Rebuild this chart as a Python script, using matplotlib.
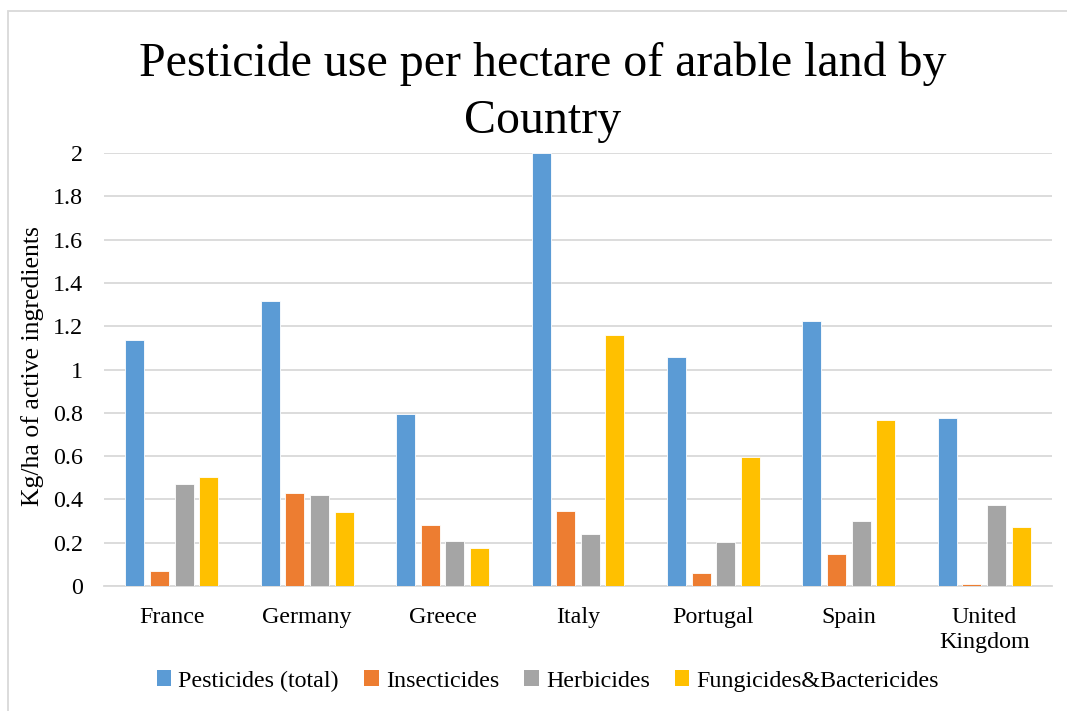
import numpy as np
import matplotlib
matplotlib.use('Agg')
import matplotlib.pyplot as plt
from matplotlib.patches import Rectangle, Patch

countries = ['France', 'Germany', 'Greece', 'Italy', 'Portugal', 'Spain', 'United\nKingdom']
pesticides_total = [1.138, 1.316, 0.793, 1.998, 1.059, 1.222, 0.777]
insecticides = [0.069, 0.430, 0.282, 0.346, 0.062, 0.150, 0.010]
herbicides = [0.473, 0.420, 0.210, 0.239, 0.205, 0.302, 0.372]
fungicides = [0.503, 0.340, 0.176, 1.158, 0.595, 0.767, 0.272]

series_names = ['Pesticides (total)', 'Insecticides', 'Herbicides', 'Fungicides&Bactericides']
series_vals = [pesticides_total, insecticides, herbicides, fungicides]
colors = ['#5B9BD5', '#ED7D31', '#A5A5A5', '#FFC000']

plt.rcParams['font.family'] = ['Liberation Serif', 'DejaVu Serif']

W, H = 1067, 711
fig = plt.figure(figsize=(W / 100, H / 100), dpi=100)
# plot area in pixels
left, right, bottom, top = 104, 1052, 586, 153
ax = fig.add_axes([left / W, 1 - bottom / H, (right - left) / W, (bottom - top) / H])

x = np.arange(len(countries))
step = 0.182
width = 0.14
for i, (name, vals) in enumerate(zip(series_names, series_vals)):
    ax.bar(x + (i - 1.5) * step, vals, width, color=colors[i],
           edgecolor='white', linewidth=0.6, label=name, zorder=3)

ax.set_xlim(-0.5, len(countries) - 0.5)
ax.set_ylim(0, 2)
ax.set_yticks(np.arange(0, 2.01, 0.2))
ax.set_yticklabels(['0', '0.2', '0.4', '0.6', '0.8', '1', '1.2', '1.4', '1.6', '1.8', '2'])
ax.set_xticks(x)
ax.set_xticklabels(countries, linespacing=1.25)
ax.tick_params(axis='both', length=0, labelsize=17.3)
ax.tick_params(axis='y', pad=15)
ax.tick_params(axis='x', pad=15)
ax.grid(axis='y', color='#D9D9D9', linewidth=1.3, zorder=0)
for s in ['top', 'right', 'left']:
    ax.spines[s].set_visible(False)
ax.spines['bottom'].set_color('#D9D9D9')
ax.spines['bottom'].set_linewidth(1.3)

fig.text(33 / W, 1 - 366 / H, 'Kg/ha of active ingredients', rotation=90,
         ha='center', va='center', fontsize=18.5)

fig.text(543 / W, 1 - 92 / H, 'Pesticide use per hectare of arable land by\nCountry',
         ha='center', va='center', fontsize=34.5, linespacing=1.38)

handles = [Patch(facecolor=c) for c in colors]
fig.legend(handles, series_names, loc='center', bbox_to_anchor=(548 / W, 1 - 681 / H),
           ncol=4, frameon=False, fontsize=17.3, handlelength=0.6, handleheight=0.6,
           handletextpad=0.3, columnspacing=1.05)

# outer chart border
fig.add_artist(Rectangle((8 / W, -0.05), 1.1, 1 - 11 / H + 0.05, transform=fig.transFigure,
                         fill=False, edgecolor='#D9D9D9', linewidth=1.3))

fig.savefig('out.png', dpi=100, facecolor='white')
